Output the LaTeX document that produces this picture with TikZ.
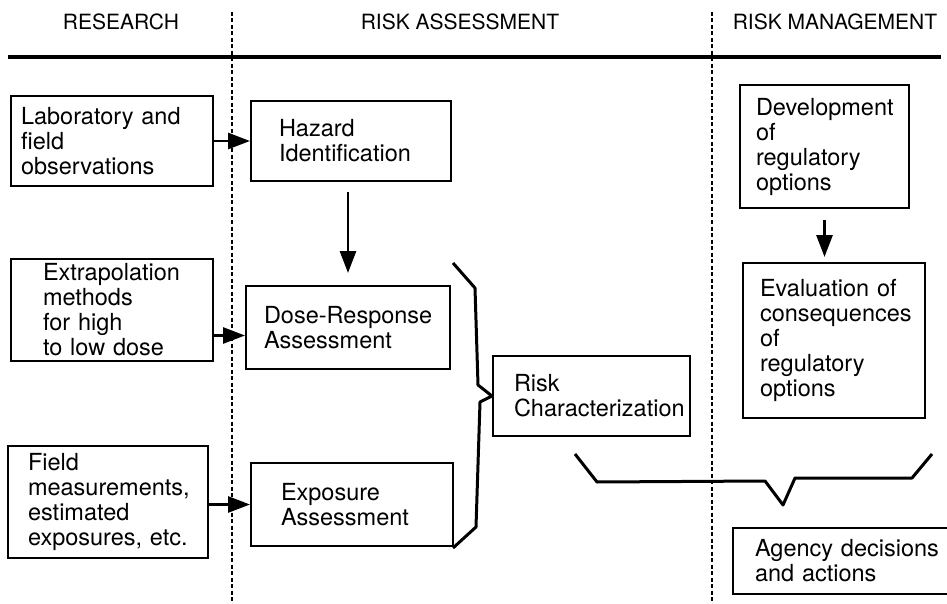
\documentclass[tikz,border=0pt]{standalone}
\usepackage{fontspec}
\setmainfont{TeX Gyre Heros}
\usetikzlibrary{arrows.meta,positioning,calc}
\hyphenpenalty=10000
\exhyphenpenalty=10000

\begin{document}
\begin{tikzpicture}[
  x=1pt, y=-1pt,
  font=\fontsize{23.5}{25}\selectfont,
  box/.style={draw=black, line width=2pt, anchor=north west, align=left,
              inner ysep=0pt},
  head/.style={font=\fontsize{21}{24}\selectfont, anchor=base},
  arr/.style={-{Triangle[length=22pt,width=16pt]}, line width=2.8pt},
  brace/.style={line width=3pt, line join=round},
  divider/.style={line width=2.2pt, dash pattern=on 4pt off 2.5pt},
  rule/.style={line width=3.4pt}]
\useasboundingbox (0,0) rectangle (947,604);

% ---------- column heads ----------
\node[head] (hresearch) at (121,30) {RESEARCH};
\node[head] (hassess)   at (460,30) {RISK ASSESSMENT};
\node[head] (hmanage)   at (835,30) {RISK MANAGEMENT};
\draw[rule] (8,57) -- (941,57);
\draw[divider] (232,12) -- (232,604);
\draw[divider] (712,12) -- (712,604);

% ---------- research ----------
\node[box, minimum width=202pt, minimum height=90pt, inner xsep=10pt,
      text width=182pt] (lab) at (10,95)
  {Laboratory and\\ field\\ observations};
\node[box, minimum width=202pt, minimum height=102pt, inner xsep=32pt,
      text width=138pt] (extrap) at (10,258)
  {Extrapolation\\ methods\\ for high\\ to low dose};
\node[box, minimum width=200pt, minimum height=112pt, inner xsep=20pt,
      text width=160pt] (field) at (7,445)
  {Field\\ measurements,\\ estimated\\ exposures, etc.};

% ---------- risk assessment ----------
\node[box, minimum width=200pt, minimum height=80pt, inner xsep=28pt,
      text width=144pt] (hazard) at (250,100)
  {Hazard\\ Identification};
\node[box, minimum width=204pt, minimum height=83pt, inner xsep=18pt,
      text width=168pt] (dose) at (245,285)
  {Dose-Response\\ Assessment};
\node[box, minimum width=202pt, minimum height=83pt, inner xsep=30pt,
      text width=142pt] (expo) at (250,462)
  {Exposure\\ Assessment};
\node[box, minimum width=197pt, minimum height=80pt, inner xsep=21pt,
      text width=155pt] (risk) at (492,355)
  {Risk\\ Characterization};

% ---------- risk management ----------
\node[box, minimum width=169pt, minimum height=123pt, inner xsep=16pt,
      text width=137pt] (devel) at (739,84)
  {Development\\ of\\ regulatory\\ options};
\node[box, minimum width=182pt, minimum height=155pt, inner xsep=17pt,
      text width=148pt] (eval) at (742,262)
  {Evaluation of\\ consequences\\ of\\ regulatory\\ options};
\node[box, minimum width=235pt, minimum height=66pt, inner xsep=22pt,
      text width=191pt] (agency) at (732,527)
  {Agency decisions\\ and actions};

% ---------- arrows ----------
\coordinate (dosein) at ($(dose.west)+(0,8)$);
\draw[arr] (lab.east) -- (lab.east -| hazard.west);
\draw[arr] (dosein -| extrap.east) -- (dosein);
\draw[arr] (expo.west -| field.east) -- (expo.west);
\draw[arr, shorten <=10pt, shorten >=12pt] (dose.north |- hazard.south) -- (dose.north);
\draw[arr, shorten <=11pt, shorten >=5pt] (devel.south) -- (devel.south |- eval.north);

% ---------- braces ----------
\draw[brace] (453,263) -- (475,288) -- (478,385) -- (risk.west)
  -- (480,402) -- (476,527) -- (453,548);
\draw[brace] (575,454) -- (597,482) -- (765,481) -- (783,505)
  -- (795,478) -- (912,478) -- (932,454);
\end{tikzpicture}
\end{document}
